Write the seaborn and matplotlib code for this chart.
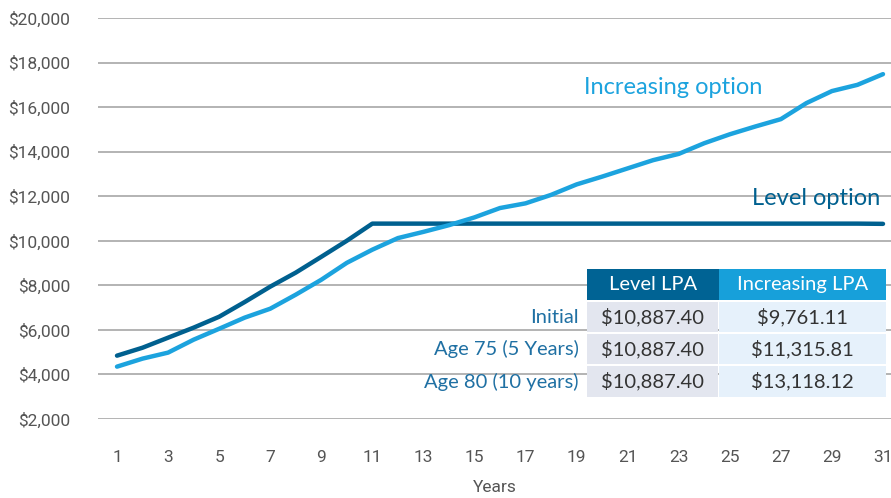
import matplotlib
matplotlib.use("Agg")
import matplotlib.pyplot as plt
from matplotlib.patches import Rectangle
import seaborn as sns
import pandas as pd
import numpy as np

years = list(range(1, 32))
level_values = [4843, 5200, 5650, 6100, 6590, 7250, 7940, 8570, 9280, 10000, 10770,
                10770, 10770, 10770, 10770, 10770, 10770, 10770, 10770, 10770, 10770,
                10770, 10770, 10770, 10770, 10770, 10770, 10770, 10770, 10770, 10760]
increasing_values = [4350, 4710, 4980, 5560, 6050, 6550, 6950, 7580, 8250, 9010, 9600,
                     10120, 10400, 10700, 11050, 11470, 11680, 12060, 12530, 12880, 13250,
                     13620, 13900, 14380, 14780, 15130, 15460, 16180, 16720, 17000, 17480]
series_names = ["Level option", "Increasing option"]
y_ticks = [2000, 4000, 6000, 8000, 10000, 12000, 14000, 16000, 18000, 20000]
x_ticks = list(range(1, 32, 2))

table_columns = ["Level LPA", "Increasing LPA"]
table_rows = ["Initial", "Age 75 (5 Years)", "Age 80 (10 years)"]
table_level = ["$10,887.40", "$10,887.40", "$10,887.40"]
table_increasing = ["$9,761.11", "$11,315.81", "$13,118.12"]

dark = "#00608F"
light = "#1CA3DE"

df = pd.DataFrame({
    "Years": years * 2,
    "Value": level_values + increasing_values,
    "Series": [series_names[0]] * len(years) + [series_names[1]] * len(years),
})

sns.set_theme(style="white")
plt.rcParams["font.family"] = ["Lato", "DejaVu Sans"]
narrow = ["Roboto", "DejaVu Sans"]

W, H = 891, 498
fig = plt.figure(figsize=(W / 100, H / 100), dpi=100)
ax = fig.add_axes([98 / W, 1 - 419 / H, (W - 98) / W, (419 - 18) / H])

sns.lineplot(data=df, x="Years", y="Value", hue="Series",
             palette={series_names[0]: dark, series_names[1]: light},
             linewidth=3.2, ax=ax, legend=False, zorder=3,
             solid_capstyle="round", solid_joinstyle="round")

ax.set_xlim(1 - 19 / 25.53, 31 + 8 / 25.53)
ax.set_ylim(2000, 20000)
ax.set_yticks(y_ticks)
ax.set_yticklabels([f"${v:,}" for v in y_ticks], family=narrow)
ax.set_xticks(x_ticks)
ax.set_xticklabels([str(v) for v in x_ticks], family=narrow)
ax.grid(axis="y", color="#b3b3b3", linewidth=1.4)
ax.grid(axis="x", visible=False)
for s in ax.spines.values():
    s.set_visible(False)
ax.tick_params(axis="y", length=0, pad=20, labelsize=12.5, labelcolor="#555555")
ax.tick_params(axis="x", length=0, pad=22, labelsize=12.5, labelcolor="#555555")
ax.set_xlabel("Years", fontsize=12.5, color="#555555", labelpad=11, family=narrow)
ax.set_ylabel("")

fig.text(673 / W, 1 - 87 / H, "Increasing option", color=light, fontsize=17,
         ha="center", va="center")
fig.text(816 / W, 1 - 198 / H, "Level option", color=dark, fontsize=17,
         ha="center", va="center")

# Table drawn in pixel coordinates
def px_rect(x0, y0, x1, y1, color):
    fig.patches.append(Rectangle((x0 / W, 1 - y1 / H), (x1 - x0) / W, (y1 - y0) / H,
                                 transform=fig.transFigure, facecolor=color,
                                 edgecolor="none", zorder=5))

col_x = [587, 719, 886]
header_y = (269, 300)
row_y = [(302, 332), (334, 364), (366, 397)]
px_rect(col_x[0], header_y[0], col_x[1], header_y[1], "#006394")
px_rect(col_x[1], header_y[0], col_x[2], header_y[1], "#17A0DA")
for (y0, y1) in row_y:
    px_rect(col_x[0], y0, col_x[1] - 1, y1, "#E3E6EF")
    px_rect(col_x[1], y0, col_x[2], y1, "#E6F1FB")
for i, name in enumerate(table_columns):
    fig.text((col_x[i] + col_x[i + 1]) / 2 / W, 1 - (sum(header_y) / 2) / H, name,
             color="white", fontsize=14.5, ha="center", va="center", zorder=6)
for r, label in enumerate(table_rows):
    yc = 1 - (sum(row_y[r]) / 2) / H
    fig.text(579 / W, yc, label, color="#1F70A3", fontsize=14.5, ha="right", va="center", zorder=6)
    fig.text((col_x[0] + col_x[1]) / 2 / W, yc, table_level[r], color="#333333",
             fontsize=14.5, ha="center", va="center", zorder=6)
    fig.text((col_x[1] + col_x[2]) / 2 / W, yc, table_increasing[r], color="#333333",
             fontsize=14.5, ha="center", va="center", zorder=6)

fig.savefig("out.png", dpi=100)
